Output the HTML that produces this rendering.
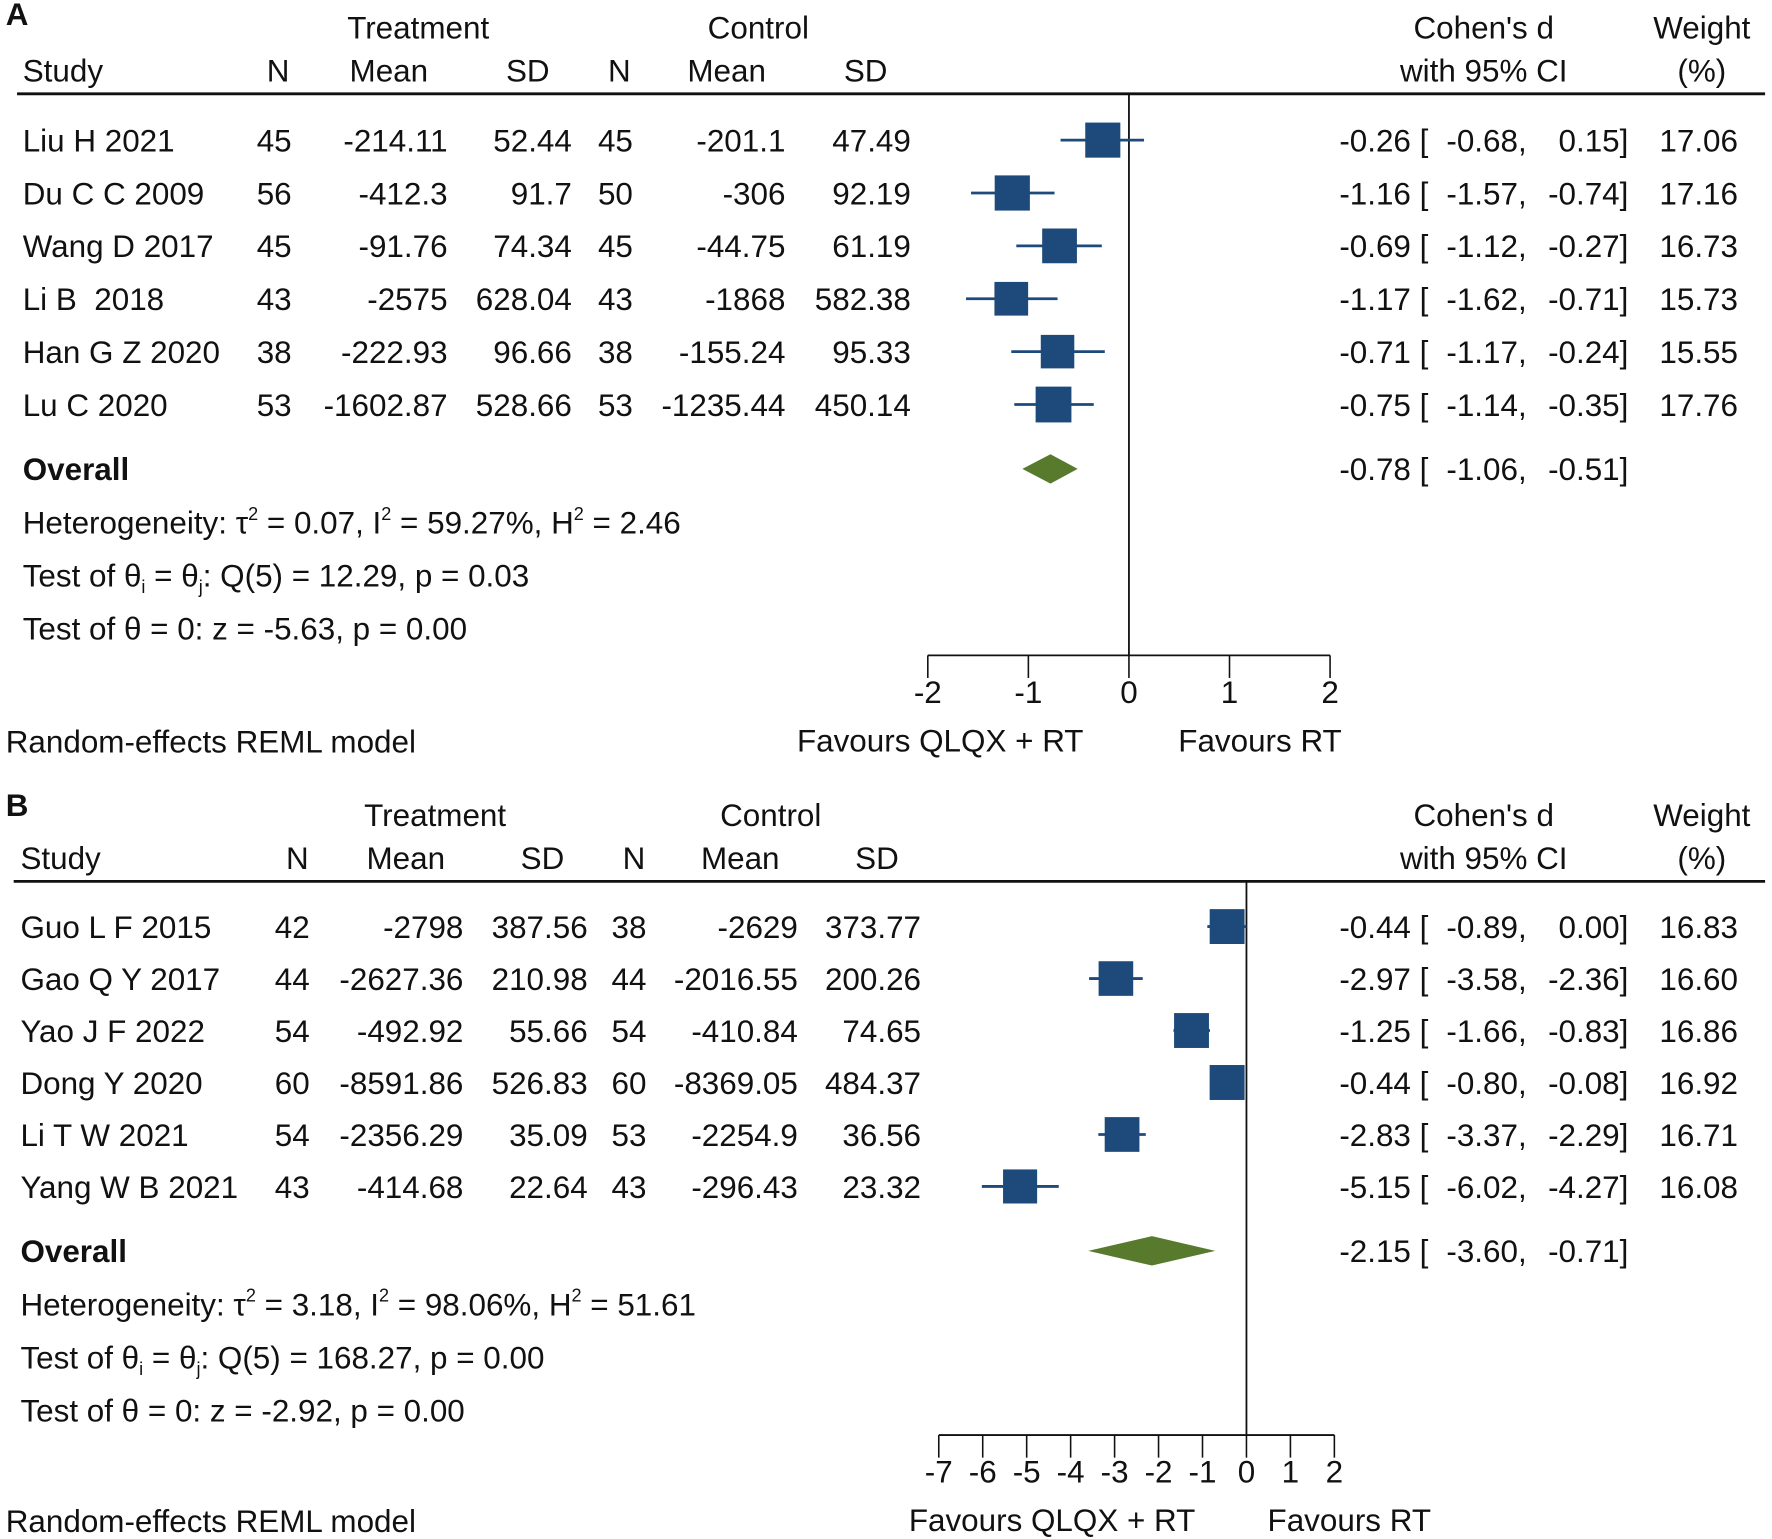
<!DOCTYPE html>
<html><head><meta charset="utf-8"><style>
html,body{margin:0;padding:0;background:#fff}
svg{display:block}
text{font-family:"Liberation Sans",Arial,sans-serif;font-size:27.8px;fill:#111;white-space:pre}
</style></head><body>
<svg id="chart" width="1772" height="1539" viewBox="0 0 1568 1362" xmlns="http://www.w3.org/2000/svg"></svg>
<script>
// Panel A data
const studiesA = ["Liu H 2021","Du C C 2009","Wang D 2017","Li B  2018","Han G Z 2020","Lu C 2020"];
const tableA = [
 ["45","-214.11","52.44","45","-201.1","47.49"],
 ["56","-412.3","91.7","50","-306","92.19"],
 ["45","-91.76","74.34","45","-44.75","61.19"],
 ["43","-2575","628.04","43","-1868","582.38"],
 ["38","-222.93","96.66","38","-155.24","95.33"],
 ["53","-1602.87","528.66","53","-1235.44","450.14"]];
const effA = [-0.26,-1.16,-0.69,-1.17,-0.71,-0.75];
const lowA = [-0.68,-1.57,-1.12,-1.62,-1.17,-1.14];
const highA = [0.15,-0.74,-0.27,-0.71,-0.24,-0.35];
const weightA = [17.06,17.16,16.73,15.73,15.55,17.76];
const overallA = [-0.78,-1.06,-0.51];
const ticksA = [-2,-1,0,1,2];
// Panel B data
const studiesB = ["Guo L F 2015","Gao Q Y 2017","Yao J F 2022","Dong Y 2020","Li T W 2021","Yang W B 2021"];
const tableB = [
 ["42","-2798","387.56","38","-2629","373.77"],
 ["44","-2627.36","210.98","44","-2016.55","200.26"],
 ["54","-492.92","55.66","54","-410.84","74.65"],
 ["60","-8591.86","526.83","60","-8369.05","484.37"],
 ["54","-2356.29","35.09","53","-2254.9","36.56"],
 ["43","-414.68","22.64","43","-296.43","23.32"]];
const effB = [-0.44,-2.97,-1.25,-0.44,-2.83,-5.15];
const lowB = [-0.89,-3.58,-1.66,-0.80,-3.37,-6.02];
const highB = [0.00,-2.36,-0.83,-0.08,-2.29,-4.27];
const weightB = [16.83,16.60,16.86,16.92,16.71,16.08];
const overallB = [-2.15,-3.60,-0.71];
const ticksB = [-7,-6,-5,-4,-3,-2,-1,0,1,2];

const NS="http://www.w3.org/2000/svg";
const svg=document.getElementById('chart');
function mk(tag,attrs,parent){const e=document.createElementNS(NS,tag);for(const k in attrs)e.setAttribute(k,attrs[k]);(parent||svg).appendChild(e);return e;}
function txt(x,y,s,anchor,name,parent,extra){const t=mk('text',{x:x,y:y,'text-anchor':anchor||'start'},parent);t.textContent=s;


if(extra)for(const k in extra)t.setAttribute(k,extra[k]);return t;}
function f2(v){return v.toFixed(2);}

function panel(cfg){
  const g=mk('g',{});
  
  
  const T=cfg.top;
  txt(5,cfg.labelY,cfg.label,'start','panel-label',g,{'font-weight':'bold','font-size':'26'});
  txt(cfg.trtC,T+33,'Treatment','middle','treatment-header',g);
  txt(cfg.ctlC,T+33,'Control','middle','control-header',g);
  txt(1313,T+33,"Cohen's d",'middle','effect-header',g);
  txt(1506,T+33,'Weight','middle','weight-header',g);
  const h2=T+71;
  txt(cfg.studyX,h2,'Study','start','study-header',g);
  const hdr=['N','Mean','SD','N','Mean','SD'];
  hdr.forEach((h,i)=>{txt(cfg.colsH[i],h2,h,'middle','column-header-'+h.toLowerCase(),g);});
  txt(1313,h2,'with 95% CI','middle','ci-header',g);
  txt(1506,h2,'(%)','middle','weight-unit-header',g);
  const hl=mk('line',{x1:cfg.lineX,x2:1562,y1:cfg.hline,y2:cfg.hline,stroke:'#111','stroke-width':2.5},g);
  
  
  const sx=v=>cfg.zero+v*cfg.unit;
  const vl=mk('line',{x1:cfg.zero,x2:cfg.zero,y1:cfg.hline,y2:cfg.axisY,stroke:'#111','stroke-width':1.6},g);
  
  
  cfg.studies.forEach((s,i)=>{
    const y=cfg.rowY0+i*cfg.rowH;
    txt(cfg.studyX,y+10,s,'start','study-name',g);
    cfg.table[i].forEach((v,j)=>txt(cfg.colsR[j],y+10,v,'end','table-cell',g));
    const ci=mk('line',{x1:sx(cfg.low[i]),x2:sx(cfg.high[i]),y1:y,y2:y,stroke:'#1d4a7a','stroke-width':2.5},g);
    
    
    const side=31*Math.sqrt(cfg.w[i]/17);
    const r=mk('rect',{x:sx(cfg.eff[i])-side/2,y:y-side/2,width:side,height:side,fill:'#1d4a7a'},g);
    
    
    txt(1264,y+10,f2(cfg.eff[i])+' [','end','effect-value',g);
    txt(1351,y+10,f2(cfg.low[i])+',','end','ci-low-value',g);
    txt(1441,y+10,f2(cfg.high[i])+']','end','ci-high-value',g);
    txt(1538,y+10,f2(cfg.w[i]),'end','weight-value',g);
  });
  const oy=cfg.overallY;
  txt(cfg.studyX,oy+10,'Overall','start','overall-label',g,{'font-weight':'bold'});
  const o=cfg.overall;
  const d=mk('polygon',{points:`${sx(o[1])},${oy} ${sx(o[0])},${oy-13} ${sx(o[2])},${oy} ${sx(o[0])},${oy+13}`,fill:'#587a2c'},g);
  
  
  txt(1264,oy+10,f2(o[0])+' [','end','overall-effect',g);
  txt(1351,oy+10,f2(o[1])+',','end','overall-ci-low',g);
  txt(1441,oy+10,f2(o[2])+']','end','overall-ci-high',g);
  const het=txt(cfg.studyX,oy+57,'','start','heterogeneity-text',g);
  het.innerHTML=`Heterogeneity: τ<tspan dy="-12" font-size="16">2</tspan><tspan dy="12"> = ${cfg.tau}, I</tspan><tspan dy="-12" font-size="16">2</tspan><tspan dy="12"> = ${cfg.i2}, H</tspan><tspan dy="-12" font-size="16">2</tspan><tspan dy="12"> = ${cfg.h2}</tspan>`;
  const q=txt(cfg.studyX,oy+104,'','start','homogeneity-test-text',g);
  q.innerHTML=`Test of θ<tspan dy="6" font-size="16">i</tspan><tspan dy="-6"> = θ</tspan><tspan dy="6" font-size="16">j</tspan><tspan dy="-6">: ${cfg.q}</tspan>`;
  txt(cfg.studyX,oy+151,'Test of θ = 0: '+cfg.z,'start','overall-test-text',g);
  const ay=cfg.axisY;
  const ax=mk('line',{x1:sx(cfg.ticks[0]),x2:sx(cfg.ticks[cfg.ticks.length-1]),y1:ay,y2:ay,stroke:'#111','stroke-width':1.6},g);
  
  
  cfg.ticks.forEach(t=>{
    const tk=mk('line',{x1:sx(t),x2:sx(t),y1:ay,y2:ay+20,stroke:'#111','stroke-width':1.4},g);
    
    
    txt(sx(t),ay+42,String(t),'middle','x-tick-label',g);
  });
  txt(cfg.favL,ay+85,'Favours QLQX + RT','middle','favours-treatment-label',g);
  txt(cfg.favR,ay+85,'Favours RT','middle','favours-control-label',g);
  txt(5,ay+86,'Random-effects REML model','start','model-note',g);
}

panel({id:'panel-a',label:'A',labelY:22,top:1,trtC:370,ctlC:671,studyX:20,
  colsH:[246,344,467,548,643,766],colsR:[258,396,506,560,695,806],
  lineX:15,hline:83,zero:999,unit:89,rowY0:124,rowH:46.8,
  studies:studiesA,table:tableA,eff:effA,low:lowA,high:highA,w:weightA,
  overall:overallA,overallY:415,tau:'0.07',i2:'59.27%',h2:'2.46',
  q:'Q(5) = 12.29, p = 0.03',z:'z = -5.63, p = 0.00',axisY:580,ticks:ticksA,favL:832,favR:1115});
panel({id:'panel-b',label:'B',labelY:722,top:698,trtC:385,ctlC:682,studyX:18,
  colsH:[263,359,480,561,655,776],colsR:[274,410,520,572,706,815],
  lineX:12,hline:780,zero:1103,unit:38.9,rowY0:820,rowH:46,
  studies:studiesB,table:tableB,eff:effB,low:lowB,high:highB,w:weightB,
  overall:overallB,overallY:1107,tau:'3.18',i2:'98.06%',h2:'51.61',
  q:'Q(5) = 168.27, p = 0.00',z:'z = -2.92, p = 0.00',axisY:1270,ticks:ticksB,favL:931,favR:1194});
</script>
</body></html>
